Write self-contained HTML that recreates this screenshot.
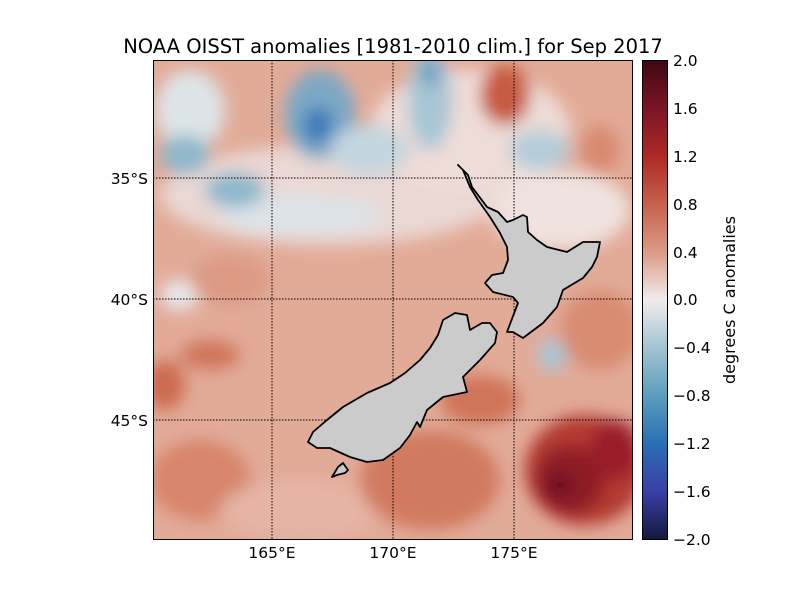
<!DOCTYPE html>
<html><head><style>
body{margin:0;background:#fff;width:800px;height:600px;overflow:hidden;font-family:"DejaVu Sans",sans-serif}
</style></head><body>
<svg width="800" height="600" xmlns="http://www.w3.org/2000/svg" font-family="DejaVu Sans, sans-serif">
<defs>
<clipPath id="c"><rect x="153" y="60" width="480" height="480"/></clipPath>
<filter id="b" x="-20%" y="-20%" width="140%" height="140%"><feGaussianBlur stdDeviation="8"/></filter>
<linearGradient id="cb" x1="0" y1="0" x2="0" y2="1">
<stop offset="0" stop-color="#3c0912"/>
<stop offset="0.1" stop-color="#7c1426"/>
<stop offset="0.2" stop-color="#ad2a26"/>
<stop offset="0.3" stop-color="#c8614a"/>
<stop offset="0.4" stop-color="#dc9a86"/>
<stop offset="0.5" stop-color="#f1ecec"/>
<stop offset="0.6" stop-color="#a3c3d2"/>
<stop offset="0.7" stop-color="#5a9ebc"/>
<stop offset="0.8" stop-color="#2a6fb4"/>
<stop offset="0.9" stop-color="#3a3fa5"/>
<stop offset="1" stop-color="#121a3d"/>
</linearGradient>
</defs>
<text x="393" y="53" font-size="19.5" text-anchor="middle">NOAA OISST anomalies [1981-2010 clim.] for Sep 2017</text>
<g clip-path="url(#c)">
<rect x="153" y="60" width="480" height="480" fill="#e2ab98"/>
<g filter="url(#b)">
<ellipse cx="330" cy="195" rx="170" ry="50" fill="#ead8d4"/>
<ellipse cx="300" cy="215" rx="80" ry="20" fill="#dde3e8"/>
<ellipse cx="470" cy="130" rx="100" ry="60" fill="#eedcd8"/>
<ellipse cx="560" cy="210" rx="70" ry="40" fill="#efe2df"/>
<ellipse cx="190" cy="110" rx="35" ry="40" fill="#dde4e8"/>
<ellipse cx="185" cy="155" rx="25" ry="20" fill="#8fb7cb"/>
<ellipse cx="235" cy="190" rx="30" ry="18" fill="#90b8cc"/>
<ellipse cx="320" cy="115" rx="35" ry="45" fill="#7aa8c6"/>
<ellipse cx="318" cy="125" rx="15" ry="18" fill="#3a7ab8"/>
<ellipse cx="430" cy="100" rx="22" ry="50" fill="#a7c6d6"/>
<ellipse cx="430" cy="72" rx="10" ry="15" fill="#6d9fc0"/>
<ellipse cx="540" cy="150" rx="30" ry="20" fill="#b3cdd9"/>
<ellipse cx="370" cy="150" rx="40" ry="25" fill="#c3d6df"/>
<ellipse cx="180" cy="295" rx="20" ry="15" fill="#e6e9ec"/>
<ellipse cx="552" cy="355" rx="14" ry="16" fill="#a7c6d6"/>
<ellipse cx="505" cy="95" rx="25" ry="30" fill="#c75a40"/>
<ellipse cx="600" cy="150" rx="20" ry="25" fill="#d98a70"/>
<ellipse cx="165" cy="385" rx="20" ry="25" fill="#cc6a50"/>
<ellipse cx="210" cy="355" rx="30" ry="15" fill="#d0765c"/>
<ellipse cx="230" cy="280" rx="40" ry="25" fill="#dc9a84"/>
<ellipse cx="200" cy="480" rx="50" ry="40" fill="#d7856c"/>
<ellipse cx="300" cy="510" rx="80" ry="30" fill="#e6b4a4"/>
<ellipse cx="430" cy="480" rx="70" ry="50" fill="#d17a60"/>
<ellipse cx="480" cy="400" rx="40" ry="25" fill="#d07458"/>
<ellipse cx="585" cy="470" rx="60" ry="55" fill="#b43a30"/>
<ellipse cx="570" cy="480" rx="35" ry="35" fill="#8e1a28"/>
<ellipse cx="615" cy="450" rx="25" ry="30" fill="#9a1e2a"/>
<ellipse cx="560" cy="485" rx="12" ry="12" fill="#6a1020"/>
<ellipse cx="600" cy="330" rx="40" ry="40" fill="#d88c72"/>
</g>
<g stroke="#000" stroke-width="1" stroke-dasharray="1.5,1.5" fill="none">
<line x1="272" y1="60" x2="272" y2="540"/><line x1="393" y1="60" x2="393" y2="540"/><line x1="514" y1="60" x2="514" y2="540"/>
<line x1="153" y1="178" x2="633" y2="178"/><line x1="153" y1="299" x2="633" y2="299"/><line x1="153" y1="420" x2="633" y2="420"/>
</g>
<g fill="#cbcbcb" stroke="#000" stroke-width="1.8" stroke-linejoin="round">
<polygon points="458,165 468,175 472,187 487,207 498,212 507,222 513,220 523,215 527,217 528,232 537,240 547,247 567,252 583,242 600,242 597,257 592,267 583,278 563,290 557,307 543,323 523,338 513,332 507,332 518,303 513,297 493,292 485,283 492,275 503,273 508,260 507,247 500,233 490,217 478,200 470,187 463,170"/>
<polygon points="455,313 467,315 470,330 482,323 490,323 497,332 495,343 480,360 463,377 467,392 443,397 427,410 420,427 417,422 410,435 400,448 383,460 367,462 350,457 330,448 317,448 308,442 313,432 327,420 343,407 367,393 390,383 405,373 420,360 430,348 438,335 443,320"/>
<polygon points="332,477 338,467 343,463 348,470 345,473 337,475"/>
</g>
</g>
<rect x="153.5" y="60.5" width="479" height="479" fill="none" stroke="#000"/>
<g font-size="15.5" text-anchor="end">
<text x="148" y="184">35°S</text><text x="148" y="305">40°S</text><text x="148" y="426">45°S</text>
</g>
<g font-size="15.5" text-anchor="middle">
<text x="272" y="558">165°E</text><text x="393" y="558">170°E</text><text x="514" y="558">175°E</text>
</g>
<rect x="642.5" y="60.5" width="25" height="479" fill="url(#cb)" stroke="#000"/>
<g font-size="15.5">
<text x="673" y="66">2.0</text><text x="673" y="114">1.6</text><text x="673" y="162">1.2</text><text x="673" y="210">0.8</text><text x="673" y="258">0.4</text><text x="673" y="305">0.0</text><text x="673" y="353">−0.4</text><text x="673" y="401">−0.8</text><text x="673" y="449">−1.2</text><text x="673" y="497">−1.6</text><text x="673" y="545">−2.0</text>
</g>
<text transform="translate(735,300) rotate(-90)" font-size="16" text-anchor="middle">degrees C anomalies</text>
</svg>
</body></html>
